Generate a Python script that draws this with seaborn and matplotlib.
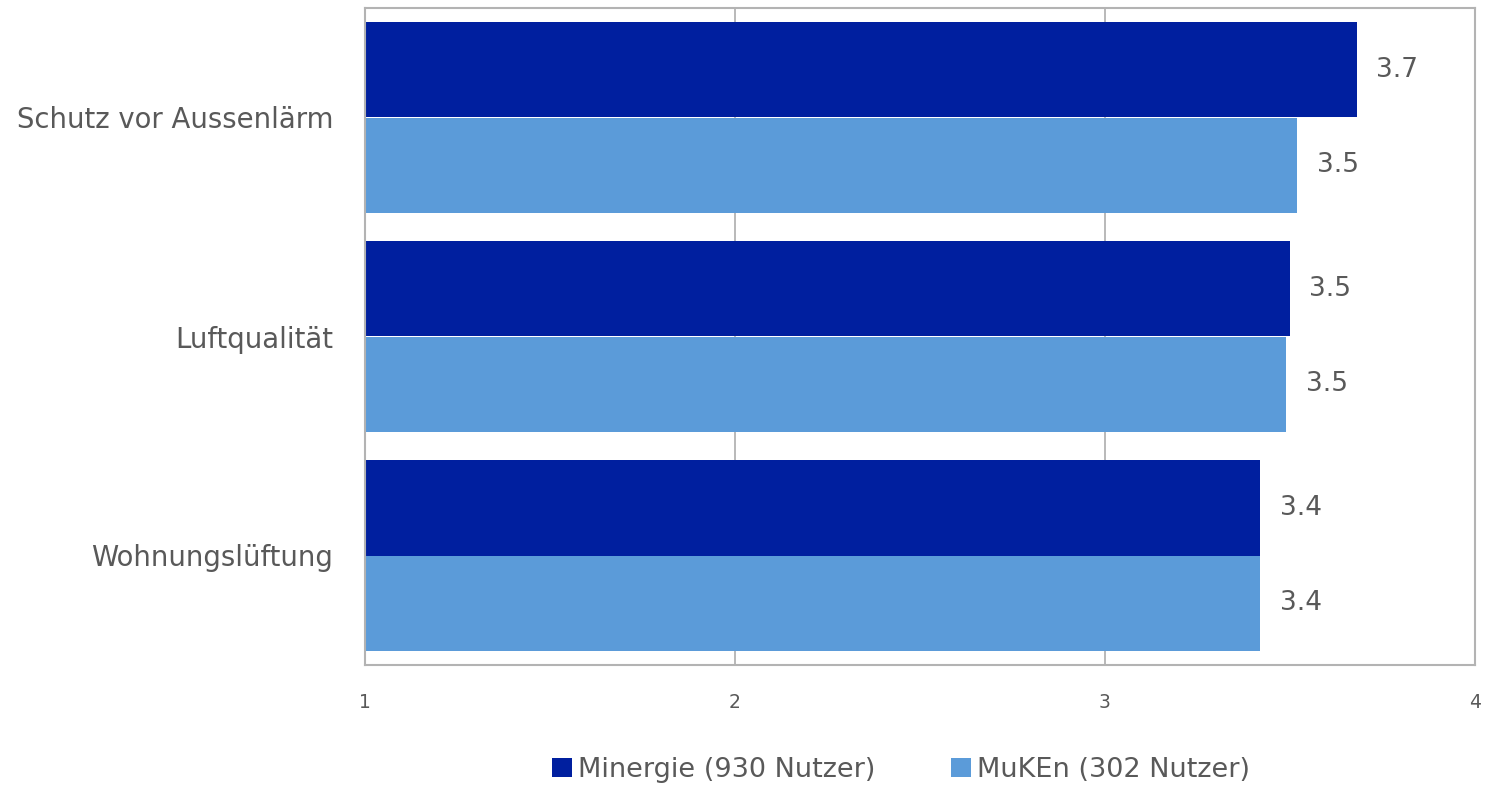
import matplotlib
matplotlib.use("Agg")
import matplotlib.pyplot as plt
import seaborn as sns
import pandas as pd

categories = ["Schutz vor Aussenlärm", "Luftqualität", "Wohnungslüftung"]
series_names = ["Minergie (930 Nutzer)", "MuKEn (302 Nutzer)"]
minergie = [3.68, 3.50, 3.42]
muken = [3.52, 3.49, 3.42]
x_ticks = [1, 2, 3, 4]

colors = ["#001F9F", "#5B9BD9"]
text_color = "#595959"

df = pd.DataFrame({
    "Kategorie": categories * 2,
    "Wert": minergie + muken,
    "Serie": [series_names[0]] * 3 + [series_names[1]] * 3,
})

sns.set_theme(style="white")
plt.rcParams["font.family"] = ["DejaVu Sans"]

fig = plt.figure(figsize=(14.93, 7.89), dpi=100)
ax = fig.add_axes([365 / 1493, 1 - 665 / 789, (1475 - 365) / 1493, (665 - 8) / 789])

sns.barplot(data=df, y="Kategorie", x="Wert", hue="Serie", orient="h",
            palette=colors, width=0.868, saturation=1, ax=ax, legend=True,
            linewidth=0, edgecolor="none")

ax.set_xlim(1, 4)
ax.set_ylim(2.5, -0.5)
ax.set_xticks(x_ticks)
ax.set_xticklabels([str(t) for t in x_ticks])
ax.set_xlabel("")
ax.set_ylabel("")

for c in ax.containers:
    ax.bar_label(c, fmt="%.1f", padding=14, fontsize=19, color=text_color)

ax.xaxis.grid(True, color="#b3b3b3", linewidth=1.3)
ax.set_axisbelow(True)
for s in ax.spines.values():
    s.set_visible(True)
    s.set_color("#b3b3b3")
    s.set_linewidth(1.5)

ax.tick_params(axis="x", length=0, pad=20, labelsize=13.5, labelcolor=text_color)
ax.tick_params(axis="y", length=0, pad=23, labelsize=19.8, labelcolor=text_color)

handles, labels = ax.get_legend_handles_labels()
ax.get_legend().remove()
fig.legend(handles, labels, loc="center", ncol=2, frameon=False,
           bbox_to_anchor=(901 / 1493, 1 - 770 / 789),
           fontsize=19.5, labelcolor=text_color,
           handlelength=0.75, handleheight=0.75, handletextpad=0.2, columnspacing=2.8)

fig.savefig("out.png", dpi=100)
